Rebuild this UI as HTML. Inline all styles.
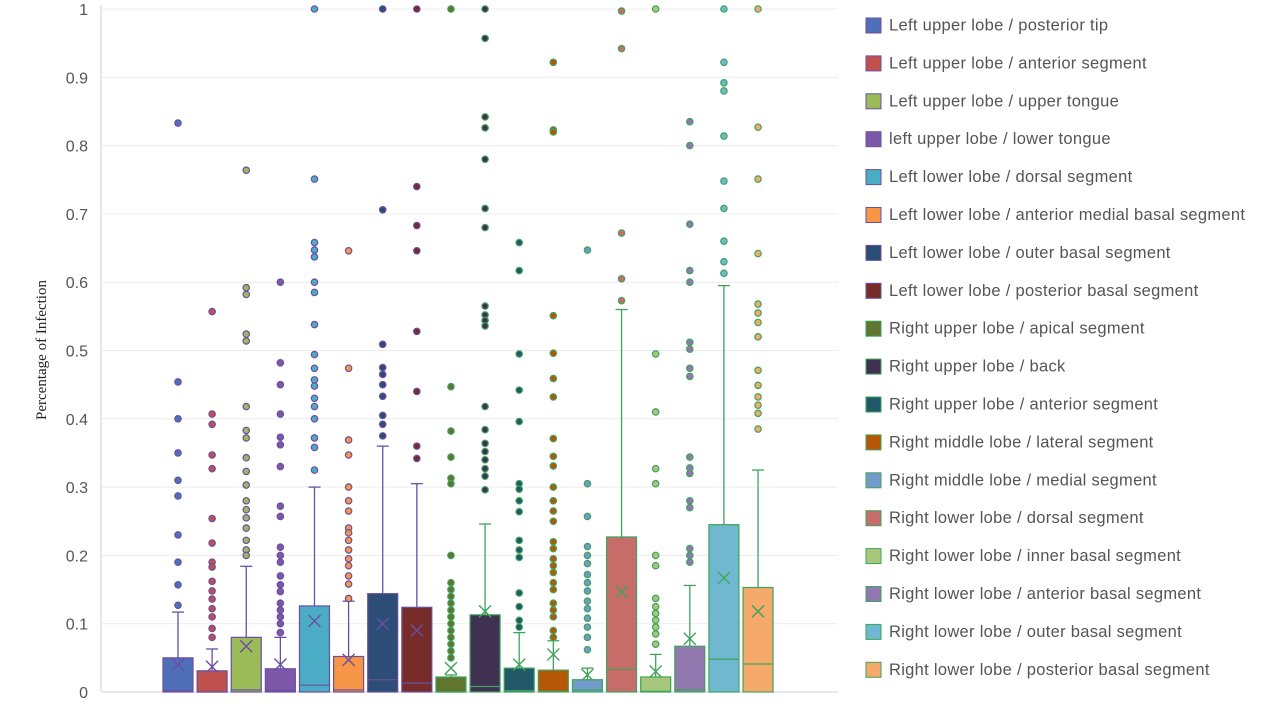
<!DOCTYPE html>
<html><head><meta charset="utf-8"><style>
body{margin:0;background:#fff;width:1286px;height:712px;overflow:hidden;font-family:"Liberation Sans",sans-serif}
svg{display:block}
</style></head><body>
<svg id="chart" width="1286" height="712">
<g id="grid"></g><g id="boxes"></g><g id="legend"></g>
<text x="46" y="350" transform="rotate(-90 46 350)" text-anchor="middle" font-family="Liberation Serif,serif" font-size="15" fill="#222">Percentage of Infection</text>
</svg>
<script>
const categories=["Left upper lobe / posterior tip","Left upper lobe / anterior segment","Left upper lobe / upper tongue","left upper lobe / lower tongue","Left lower lobe / dorsal segment","Left lower lobe / anterior medial basal segment","Left lower lobe / outer basal segment","Left lower lobe / posterior basal segment","Right upper lobe / apical segment","Right upper lobe / back","Right upper lobe / anterior segment","Right middle lobe / lateral segment","Right middle lobe / medial segment","Right lower lobe / dorsal segment","Right lower lobe / inner basal segment","Right lower lobe / anterior basal segment","Right lower lobe / outer basal segment","Right lower lobe / posterior basal segment"];
const colors=["#4f6fb8","#c0504d","#9bbb59","#7b58a8","#4bacc6","#f79646","#2c4d75","#772c2a","#5f7530","#403152","#215968","#b65708","#729aca","#c66d6a","#a9c77a","#9179b0","#6fb8cf","#f5a96a"];
const q1=[0,0,0,0,0,0,0,0,0,0,0,0,0,0,0,0,0,0];
const medians=[0.002,0,0.003,0.002,0.01,0.003,0.018,0.013,0,0.008,0.002,0.001,0.003,0.033,0.001,0.003,0.048,0.041];
const q3=[0.05,0.031,0.08,0.034,0.126,0.052,0.144,0.124,0.022,0.113,0.035,0.032,0.018,0.227,0.022,0.067,0.245,0.153];
const whiskers=[0.117,0.063,0.184,0.08,0.3,0.133,0.36,0.305,0.025,0.246,0.087,0.075,0.035,0.56,0.055,0.156,0.595,0.325];
const means=[0.04,0.037,0.067,0.04,0.104,0.047,0.1,0.09,0.035,0.118,0.04,0.055,0.025,0.147,0.03,0.078,0.167,0.118];
const outliers=[
[0.833,0.454,0.4,0.35,0.31,0.287,0.23,0.19,0.157,0.127],
[0.557,0.407,0.392,0.347,0.327,0.254,0.218,0.19,0.183,0.162,0.148,0.136,0.122,0.11,0.093,0.08],
[0.764,0.592,0.582,0.524,0.514,0.418,0.383,0.372,0.343,0.323,0.303,0.28,0.267,0.255,0.24,0.222,0.208,0.2],
[0.6,0.482,0.45,0.407,0.373,0.362,0.33,0.272,0.257,0.212,0.2,0.19,0.17,0.157,0.147,0.13,0.12,0.11,0.1,0.087],
[1,0.751,0.658,0.647,0.637,0.6,0.585,0.538,0.494,0.474,0.457,0.448,0.43,0.418,0.4,0.372,0.358,0.325],
[0.646,0.474,0.369,0.347,0.3,0.28,0.265,0.24,0.233,0.222,0.208,0.195,0.185,0.17,0.158,0.137],
[1,0.706,0.509,0.475,0.465,0.45,0.433,0.405,0.392,0.375],
[1,0.74,0.683,0.646,0.528,0.44,0.36,0.342],
[1,0.447,0.382,0.344,0.313,0.305,0.2,0.16,0.15,0.14,0.13,0.12,0.11,0.1,0.09,0.08,0.07,0.06,0.05],
[1,0.957,0.842,0.826,0.78,0.708,0.68,0.565,0.552,0.544,0.536,0.418,0.384,0.364,0.352,0.34,0.327,0.316,0.296],
[0.658,0.617,0.495,0.442,0.396,0.305,0.297,0.28,0.264,0.222,0.208,0.197,0.145,0.125,0.105,0.095],
[0.922,0.823,0.82,0.551,0.496,0.459,0.432,0.371,0.345,0.331,0.3,0.28,0.265,0.25,0.22,0.21,0.195,0.185,0.175,0.16,0.15,0.13,0.12,0.11,0.09,0.08],
[0.647,0.305,0.257,0.213,0.2,0.188,0.172,0.16,0.148,0.133,0.122,0.108,0.095,0.08,0.062],
[0.997,0.942,0.672,0.605,0.573],
[1,0.495,0.41,0.327,0.305,0.2,0.185,0.137,0.125,0.115,0.105,0.095,0.085,0.07],
[0.835,0.8,0.685,0.617,0.6,0.512,0.502,0.474,0.462,0.344,0.328,0.32,0.28,0.27,0.21,0.2,0.19],
[1,0.922,0.892,0.88,0.814,0.748,0.708,0.66,0.63,0.613],
[1,0.827,0.751,0.642,0.568,0.555,0.541,0.52,0.471,0.449,0.432,0.42,0.408,0.385]];
const yTicks=[0,0.1,0.2,0.3,0.4,0.5,0.6,0.7,0.8,0.9,1];
const tickLabels=["0","0.1","0.2","0.3","0.4","0.5","0.6","0.7","0.8","0.9","1"];
const NS="http://www.w3.org/2000/svg";
const y=v=>692-v*683;
const x=i=>178+i*34.12;
function mk(p,t,a){const e=document.createElementNS(NS,t);for(const k in a)e.setAttribute(k,a[k]);p.appendChild(e);return e;}
const grid=document.getElementById('grid');
yTicks.forEach((t,i)=>{
 const l=mk(grid,'line',{x1:102,x2:838,y1:y(t),y2:y(t),stroke:i===0?'#d0d0d0':'#ececec','stroke-width':1});
 
 
 const tx=mk(grid,'text',{x:88,y:y(t)+6,'text-anchor':'end','font-size':16,fill:'#555'});
 tx.textContent=tickLabels[i];
 
 
});
const ax=mk(grid,'line',{x1:101,x2:101,y1:5,y2:692,stroke:'#ccc'});


const boxes=document.getElementById('boxes');
const w=30;
categories.forEach((c,i)=>{
 const st=i<8?'#6a4fa3':'#3ea35c';
 const g=mk(boxes,'g',{});
 
 
 const cx=x(i);
 mk(g,'line',{x1:cx,x2:cx,y1:y(whiskers[i]),y2:y(q3[i]),stroke:st,'stroke-width':1.3});
 mk(g,'line',{x1:cx-6,x2:cx+6,y1:y(whiskers[i]),y2:y(whiskers[i]),stroke:st,'stroke-width':1.3});
 mk(g,'rect',{x:cx-w/2,y:y(q3[i]),width:w,height:y(q1[i])-y(q3[i]),fill:colors[i],stroke:st,'stroke-width':1.2});
 mk(g,'line',{x1:cx-w/2,x2:cx+w/2,y1:y(medians[i]),y2:y(medians[i]),stroke:st,'stroke-width':1.2});
 const m=y(means[i]);
 mk(g,'path',{d:`M${cx-6} ${m-6}L${cx+6} ${m+6}M${cx-6} ${m+6}L${cx+6} ${m-6}`,stroke:st,'stroke-width':1.4,fill:'none'});
 outliers[i].forEach(v=>{
  const d=mk(g,'circle',{cx:cx,cy:y(v),r:3.2,fill:colors[i],stroke:st,'stroke-width':1.2});
  
  
 });
});
const lg=document.getElementById('legend');
categories.forEach((c,i)=>{
 const g=mk(lg,'g',{});
 
 
 const yy=25+i*37.9;
 mk(g,'rect',{x:866,y:yy-7,width:15,height:15,fill:colors[i],stroke:i<8?'#6a4fa3':'#3ea35c','stroke-width':1});
 const t=mk(g,'text',{x:889,y:yy+5.5,'font-size':16.5,'letter-spacing':0.3,fill:'#555'});
 t.textContent=c;
});
</script>
</body></html>
